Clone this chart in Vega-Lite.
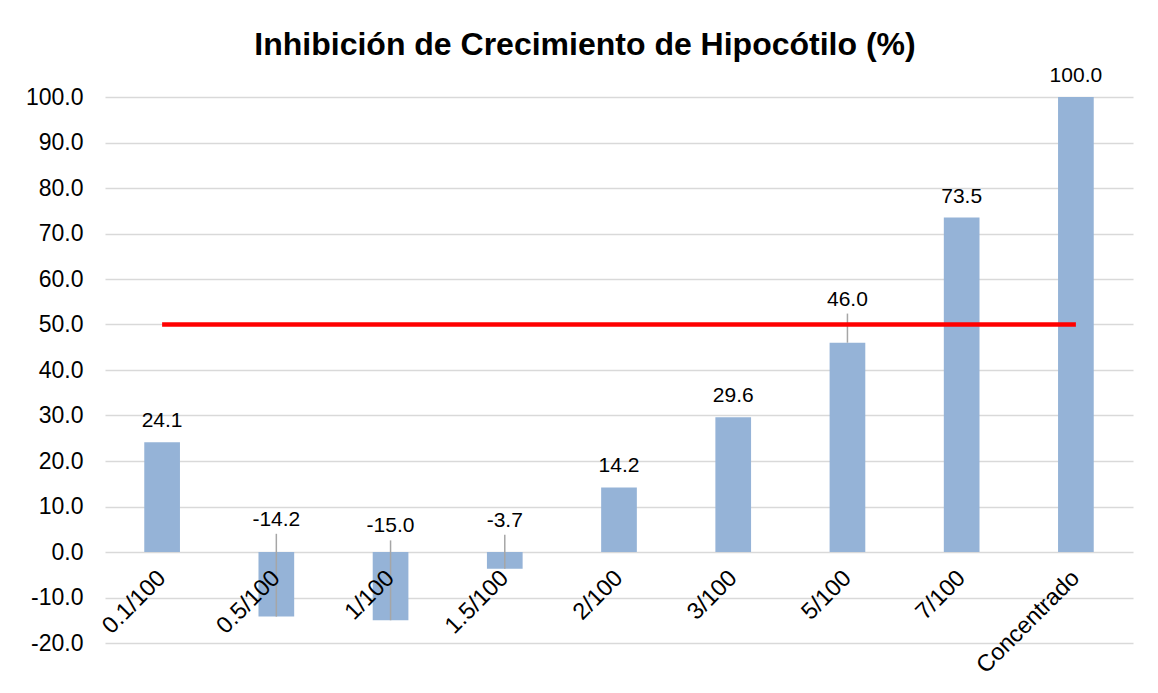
{
  "$schema": "https://vega.github.io/schema/vega-lite/v6.json",
  "autosize": {"type": "none"},
  "width": 1028,
  "height": 546,
  "padding": {"left": 105, "top": 97, "right": 25, "bottom": 50},
  "background": "white",
  "config": {
    "font": "Liberation Sans",
    "view": {"stroke": null},
    "locale": {"number": {"decimal": ".", "thousands": ",", "grouping": [3], "currency": ["$", ""], "minus": "-"}}
  },
  "title": {
    "text": "Inhibición de Crecimiento de Hipocótilo (%)",
    "fontSize": 32,
    "fontWeight": "bold",
    "font": "Liberation Sans",
    "color": "#000000",
    "anchor": "middle",
    "baseline": "alphabetic",
    "offset": -22,
    "dx": -34
  },
  "data": {
    "values": [
      {"conc": "0.1/100", "value": 24.1},
      {"conc": "0.5/100", "value": -14.2, "upper": 4.0},
      {"conc": "1/100", "value": -15.0, "upper": 2.55},
      {"conc": "1.5/100", "value": -3.7, "upper": 3.8},
      {"conc": "2/100", "value": 14.2},
      {"conc": "3/100", "value": 29.6},
      {"conc": "5/100", "value": 46.0, "upper": 52.4},
      {"conc": "7/100", "value": 73.5},
      {"conc": "Concentrado", "value": 100.0}
    ]
  },
  "encoding": {
    "x": {
      "field": "conc",
      "type": "nominal",
      "sort": null,
      "scale": {"paddingInner": 0.6875, "paddingOuter": 0.34375},
      "axis": {
        "title": null,
        "domain": false,
        "ticks": false,
        "labelAngle": -45,
        "labelAlign": "right",
        "labelBaseline": "middle",
        "labelPadding": 22,
        "labelFontSize": 23.5,
        "labelColor": "#000000",
        "offset": -91,
        "zindex": 1
      }
    }
  },
  "layer": [
    {
      "mark": {"type": "bar", "color": "#95B3D7"},
      "encoding": {
        "y": {
          "field": "value",
          "type": "quantitative",
          "scale": {"domain": [-20, 100], "nice": false, "zero": false},
          "axis": {
            "title": null,
            "values": [-20, -10, 0, 10, 20, 30, 40, 50, 60, 70, 80, 90, 100],
            "format": ".1f",
            "domain": false,
            "ticks": false,
            "grid": true,
            "gridColor": "#d9d9d9",
            "gridWidth": 1.5,
            "labelFontSize": 23,
            "labelColor": "#000000",
            "labelPadding": 22
          }
        }
      }
    },
    {
      "transform": [{"filter": "isValid(datum.upper)"}],
      "mark": {"type": "rule", "color": "#a6a6a6", "strokeWidth": 1.5},
      "encoding": {
        "y": {"field": "value", "type": "quantitative"},
        "y2": {"field": "upper"}
      }
    },
    {
      "transform": [{"filter": "datum.conc === '0.1/100' || datum.conc === 'Concentrado'"}],
      "mark": {"type": "line", "color": "#FF0000", "strokeWidth": 4.5},
      "encoding": {
        "y": {"datum": 50, "type": "quantitative"}
      }
    },
    {
      "transform": [{"filter": "isValid(datum.upper)"}],
      "mark": {"type": "text", "fontSize": 21, "color": "#000000", "baseline": "alphabetic", "dy": -8},
      "encoding": {
        "y": {"field": "upper", "type": "quantitative"},
        "text": {"field": "value", "type": "quantitative", "format": ".1f"}
      }
    },
    {
      "transform": [{"filter": "!isValid(datum.upper)"}],
      "mark": {"type": "text", "fontSize": 21, "color": "#000000", "baseline": "alphabetic", "dy": -15},
      "encoding": {
        "y": {"field": "value", "type": "quantitative"},
        "text": {"field": "value", "type": "quantitative", "format": ".1f"}
      }
    }
  ]
}
